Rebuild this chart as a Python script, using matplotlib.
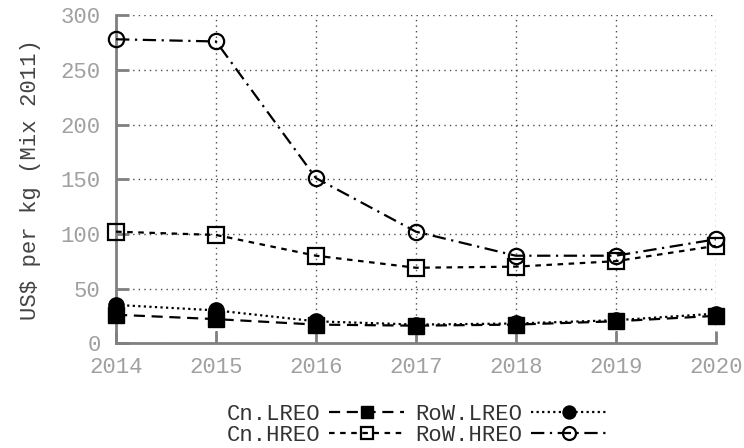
import matplotlib
matplotlib.use('Agg')
import matplotlib.pyplot as plt

years = [2014, 2015, 2016, 2017, 2018, 2019, 2020]
cn_lreo = [26, 22, 17, 16, 17, 20, 25]
row_lreo = [35, 30, 20, 17, 18, 21, 27]
cn_hreo = [102, 99, 80, 69, 70, 75, 89]
row_hreo = [278, 276, 151, 102, 80, 80, 95]
yticks = [0, 50, 100, 150, 200, 250, 300]

plt.rcParams['font.family'] = ['Liberation Mono', 'DejaVu Sans Mono']

fig = plt.figure(figsize=(7.44, 4.48), dpi=100)
ax = fig.add_axes([0.156, 0.234, 0.806, 0.732])

lw = 1.6
ms = 11
ax.plot(years, cn_lreo, color='black', lw=lw, ls=(0, (5, 3)), marker='s', ms=ms,
        mfc='black', mec='black', label='Cn.LREO', clip_on=False, zorder=3)
ax.plot(years, row_lreo, color='black', lw=lw, ls=(0, (1, 1.5)), marker='o', ms=ms,
        mfc='black', mec='black', label='RoW.LREO', clip_on=False, zorder=3)
ax.plot(years, cn_hreo, color='black', lw=lw, ls=(0, (2.5, 2.5)), marker='s', ms=ms,
        mfc='none', mec='black', mew=1.6, label='Cn.HREO', clip_on=False, zorder=3)
ax.plot(years, row_hreo, color='black', lw=lw, ls=(0, (6, 2.5, 1, 2.5)), marker='o', ms=ms,
        mfc='none', mec='black', mew=1.6, label='RoW.HREO', clip_on=False, zorder=3)

ax.set_xlim(2014, 2020)
ax.set_ylim(0, 300)
ax.set_xticks(years)
ax.set_yticks(yticks)
ax.grid(True, color='0.3', ls=(0, (1, 3)), lw=1)

for s in ['top', 'right']:
    ax.spines[s].set_visible(False)
for s in ['left', 'bottom']:
    ax.spines[s].set_color('#808080')
    ax.spines[s].set_linewidth(2)

ax.tick_params(direction='in', length=9, width=2, color='#808080',
               labelcolor='#a0a0a0', labelsize=16)
ax.tick_params(axis='x', pad=10)
ax.tick_params(axis='y', pad=11)
ax.set_ylabel('US$ per kg (Mix 2011)', color='#444444', fontsize=16, labelpad=14)

handles, labels = ax.get_legend_handles_labels()
order = [0, 2, 1, 3]
fig.legend([handles[i] for i in order], [labels[i] for i in order],
           loc='lower center', bbox_to_anchor=(0.56, -0.04), ncol=2, frameon=False,
           markerfirst=False, handlelength=3.4, fontsize=16, labelspacing=0.0,
           columnspacing=0.5, handletextpad=0.4, labelcolor='#333333', markerscale=0.85)

fig.savefig('out.png', dpi=100)
